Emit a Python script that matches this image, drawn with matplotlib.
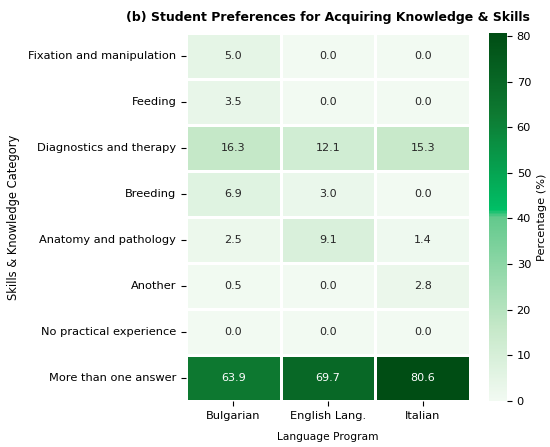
import numpy as np
import matplotlib
matplotlib.use("Agg")
import matplotlib.pyplot as plt
import seaborn as sns
from matplotlib.colors import LinearSegmentedColormap

# Дані з рисунка
categories = ["Fixation and manipulation", "Feeding", "Diagnostics and therapy",
              "Breeding", "Anatomy and pathology", "Another",
              "No practical experience", "More than one answer"]
programs = ["Bulgarian", "English Lang.", "Italian"]
bulgarian = [5.0, 3.5, 16.3, 6.9, 2.5, 0.5, 0.0, 63.9]
english = [0.0, 0.0, 12.1, 3.0, 9.1, 0.0, 0.0, 69.7]
italian = [0.0, 0.0, 15.3, 0.0, 1.4, 2.8, 0.0, 80.6]

data = np.array([bulgarian, english, italian]).T

cmap = LinearSegmentedColormap.from_list(
    "greens_custom",
    [(0.0, "#f2faf2"), (0.2, "#c5e8c8"), (0.5, "#62c98c"),
     (0.52, "#00bf66"), (0.78, "#0e7a32"), (1.0, "#004d14")])

fig = plt.figure(figsize=(5.5, 4.47), dpi=100)
ax = fig.add_axes([0.3382, 0.1029, 0.5164, 0.823])
cax = fig.add_axes([0.889, 0.1029, 0.0327, 0.823])

sns.heatmap(data, annot=True, fmt=".1f", cmap=cmap, linewidths=1, linecolor="white",
            xticklabels=programs, yticklabels=categories, ax=ax, cbar_ax=cax,
            annot_kws={"size": 8}, cbar_kws={"label": "Percentage (%)"})

ax.tick_params(axis="both", labelsize=8.2)
ax.set_yticklabels(categories, rotation=0)
ax.set_xlabel("Language Program", fontsize=7.7, labelpad=8)
ax.set_ylabel("Skills & Knowledge Category", fontsize=8.3)
ax.yaxis.set_label_coords(-0.585, 0.5)
ax.set_title("(b) Student Preferences for Acquiring Knowledge & Skills",
             fontsize=9, fontweight="bold", pad=9)
cax.tick_params(labelsize=8.2)
cax.yaxis.label.set_size(8.2)
for sp in cax.spines.values():
    sp.set_visible(False)

fig.savefig("out.png", dpi=100)
